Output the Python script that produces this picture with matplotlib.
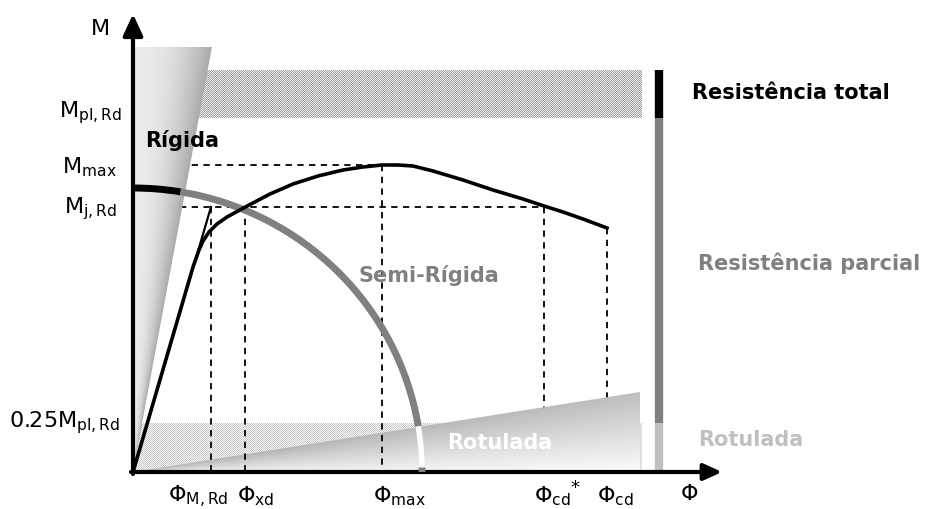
import matplotlib
matplotlib.use("Agg")
import matplotlib.pyplot as plt
import numpy as np
from matplotlib.patches import Polygon, Arc

plt.rcParams['font.family'] = ['DejaVu Sans']
plt.rcParams['mathtext.fontset'] = 'dejavusans'
plt.rcParams['mathtext.default'] = 'regular'

# niveis de momento (unidades do esquema, origem no cruzamento dos eixos)
M_pl = [354, 402]          # faixa de M_pl,Rd
M_max = 307
M_jRd = 265
M_25 = 49                  # 0.25 M_pl,Rd
M_top_rigid = 425

# rotacoes
phi_MRd = 78
phi_xd = 112
phi_max = 249
phi_cd_star = 411
phi_cd = 474
phi_band_end = 509
phi_rot_end = 507
rot_top = 80
rigid_top_phi = 79

# curva M-Phi da ligacao
curva_phi = [0, 60, 66, 70, 76, 84, 94, 105, 118, 137, 160, 185, 210, 230, 249,
             265, 280, 300, 330, 360, 390, 411, 430, 450, 474]
curva_M = [0, 205, 222, 231, 240, 248, 255, 261, 268, 278, 288, 296, 302, 305, 307,
           307, 306, 301, 292, 282, 273, 266, 260, 253, 244]

# fronteira de resistencia (elipse)
arco_a, arco_b = 289, 284
ang_preto = 80.4
ang_branco = 9.1

fig = plt.figure(figsize=(9.26, 5.09), dpi=100)
ax = fig.add_axes([0, 0, 1, 1])
ax.set_xlim(-133, 793)
ax.set_ylim(-37, 472)
ax.axis('off')

# faixas tracejadas (padrao xadrez, colocado pixel a pixel)
def xadrez(y0, y1, c1, c2):
    h, w = y1 - y0, phi_band_end
    yy, xx = np.indices((h, w))
    img = np.where((xx + yy) % 2 == 0, c1, c2)
    xo, yo = ax.transData.transform((0, y0))
    fig.figimage(img, xo=int(round(xo)), yo=int(round(yo)), cmap='gray',
                 vmin=0, vmax=1, zorder=-1)

xadrez(M_pl[0], M_pl[1], 0.62, 0.93)
xadrez(0, M_25, 0.78, 0.98)

# verticais escondidas pela zona rotulada
for p, m in [(phi_cd_star, M_jRd), (phi_cd, curva_M[-1])]:
    ax.plot([p, p], [m, 0], color='k', lw=1.3, ls=(0, (3.5, 3)), zorder=1.5)

# zona rotulada (triangulo com gradiente)
nx, ny = 300, 120
gx = np.linspace(0, phi_rot_end, nx)
gy = np.linspace(0, rot_top, ny)
GX, GY = np.meshgrid(gx, gy)
ytop = np.maximum(rot_top * GX / phi_rot_end, 1e-6)
t = np.clip(GY / ytop, 0, 1)
val = 0.985 - 0.24 * t - 0.05 * (1 - GX / phi_rot_end)
tri = Polygon([(0, 0), (phi_rot_end, rot_top), (phi_rot_end, 0)], closed=True,
              facecolor='none', edgecolor='none')
ax.add_patch(tri)
im = ax.imshow(val, cmap='gray', vmin=0, vmax=1, extent=[0, phi_rot_end, 0, rot_top],
               origin='lower', aspect='auto', zorder=2, interpolation='bilinear')
im.set_clip_path(tri)

# linhas tracejadas
ds = (0, (3.5, 3))
ax.plot([0, phi_max], [M_max, M_max], color='k', lw=1.3, ls=ds, zorder=3)
ax.plot([0, phi_cd_star], [M_jRd, M_jRd], color='k', lw=1.3, ls=ds, zorder=3)
for p, m in [(phi_MRd, M_jRd), (phi_xd, M_jRd), (phi_max, M_max)]:
    ax.plot([p, p], [m, 0], color='k', lw=1.3, ls=ds, zorder=3)

# zona rigida (cunha com gradiente)
gx = np.linspace(0, rigid_top_phi, 120)
gy = np.linspace(0, M_top_rigid, 300)
GX, GY = np.meshgrid(gx, gy)
xedge = np.maximum(rigid_top_phi * GY / M_top_rigid, 1e-6)
t = np.clip(GX / xedge, 0, 1)
val = 0.91 + 0.06 * np.sin(np.pi * t * 0.8) - 0.28 * t ** 1.5
cunha = Polygon([(0, 0), (0, M_top_rigid), (rigid_top_phi, M_top_rigid)], closed=True,
                facecolor='none', edgecolor='none')
ax.add_patch(cunha)
im2 = ax.imshow(val, cmap='gray', vmin=0, vmax=1, extent=[0, rigid_top_phi, 0, M_top_rigid],
                origin='lower', aspect='auto', zorder=4, interpolation='bilinear')
im2.set_clip_path(cunha)

# fronteira de resistencia
ax.add_patch(Arc((0, 0), 2 * arco_a, 2 * arco_b, theta1=ang_branco, theta2=ang_preto,
                 color='#808080', lw=5, zorder=5))
ax.add_patch(Arc((0, 0), 2 * arco_a, 2 * arco_b, theta1=0.9, theta2=ang_branco,
                 color='white', lw=4, zorder=5))
ax.add_patch(Arc((0, 0), 2 * arco_a, 2 * arco_b, theta1=0, theta2=0.9,
                 color='#808080', lw=5, zorder=8))
ax.add_patch(Arc((0, 0), 2 * arco_a, 2 * arco_b, theta1=ang_preto, theta2=90,
                 color='black', lw=5, zorder=5))

# curva e rigidez inicial
ax.plot([0, phi_MRd], [0, M_jRd], color='k', lw=1.6, zorder=6)
ax.plot(curva_phi, curva_M, color='k', lw=2.6, zorder=6, solid_joinstyle='round')

# barra de classificacao por resistencia
bx = 526
ax.plot([bx, bx], [M_pl[0], M_pl[1]], color='black', lw=6, solid_capstyle='butt', zorder=6)
ax.plot([bx, bx], [M_25, M_pl[0]], color='#808080', lw=6, solid_capstyle='butt', zorder=6)
ax.plot([bx, bx], [0, M_25], color='#c0c0c0', lw=6, solid_capstyle='butt', zorder=6)

# eixos
ax.annotate('', xy=(0, 458), xytext=(0, -2),
            arrowprops=dict(arrowstyle='-|>,head_length=0.65,head_width=0.3', lw=3,
                            color='k', shrinkA=0, shrinkB=0, mutation_scale=20), zorder=7)
ax.annotate('', xy=(589, 0), xytext=(-2, 0),
            arrowprops=dict(arrowstyle='-|>,head_length=0.55,head_width=0.25', lw=3,
                            color='k', shrinkA=0, shrinkB=0, mutation_scale=20), zorder=7)

# textos dos eixos
fs = 16
ax.text(-23, 437, 'M', fontsize=fs, ha='right', va='baseline')
ax.text(-11, 355, r'$M_{pl,Rd}$', fontsize=fs, ha='right', va='baseline')
ax.text(-16, 299, r'$M_{max}$', fontsize=fs, ha='right', va='baseline')
ax.text(-16, 259, r'$M_{j,Rd}$', fontsize=fs, ha='right', va='baseline')
ax.text(-13, 45, r'$0.25M_{pl,Rd}$', fontsize=fs, ha='right', va='baseline')

yb = -30
ax.text(35, yb, r'$\Phi_{M,Rd}$', fontsize=fs, ha='left', va='baseline')
ax.text(104, yb, r'$\Phi_{xd}$', fontsize=fs, ha='left', va='baseline')
ax.text(240, yb, r'$\Phi_{max}$', fontsize=fs, ha='left', va='baseline')
ax.text(401, yb, r'$\Phi_{cd}$', fontsize=fs, ha='left', va='baseline')
ax.text(442, -21, '*', fontsize=13, ha='center', va='baseline')
ax.text(464, yb, r'$\Phi_{cd}$', fontsize=fs, ha='left', va='baseline')
ax.text(547, -28, r'$\Phi$', fontsize=fs, ha='left', va='baseline')

# zonas
fb = 15
ax.text(12, 332, 'Rígida', fontsize=fb, fontweight='bold', color='black', va='center', zorder=9)
ax.text(225, 197, 'Semi-Rígida', fontsize=fb, fontweight='bold', color='#808080', va='center', zorder=9)
ax.text(314, 29, 'Rotulada', fontsize=fb, fontweight='bold', color='white', va='center', zorder=9)

ax.text(559, 379, 'Resistência total', fontsize=fb, fontweight='bold', color='black', va='center')
ax.text(565, 209, 'Resistência parcial', fontsize=fb, fontweight='bold', color='#808080', va='center')
ax.text(565, 32, 'Rotulada', fontsize=fb, fontweight='bold', color='#c0c0c0', va='center')

fig.savefig('out.png', dpi=100)
